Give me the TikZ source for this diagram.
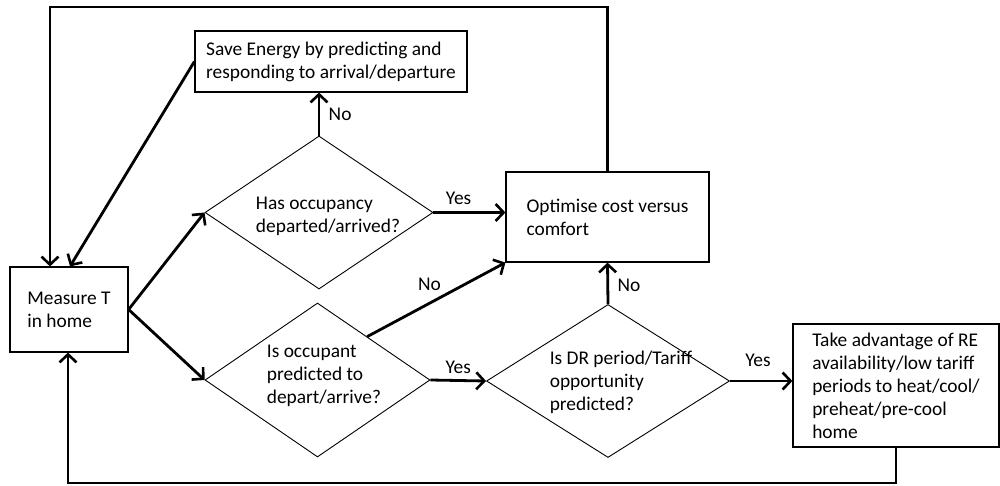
\documentclass[tikz,border=0pt]{standalone}
\usepackage{fontspec}
\setmainfont{Carlito}
\usetikzlibrary{shapes.geometric,arrows.meta,calc}

\tikzset{
	box/.style={draw, line width=1.2pt, align=left, inner sep=0pt},
	decision/.style={draw, diamond, line width=0.9pt, inner sep=0pt},
	txt/.style={align=left, inner sep=0pt},
	flow/.style={line width=2.8pt, -{Straight Barb[length=8pt, width=17pt, line width=2.6pt]}}
}

\begin{document}
\begin{tikzpicture}[x=1pt, y=-1pt, font=\fontsize{19.4}{23}\selectfont]
			\useasboundingbox (0, 0) rectangle (1000, 486);
			% boxes
			\node [box, minimum width=118pt, minimum height=85pt] (meas) at (69, 309.5) {Measure T\\in home};
			\node [box, minimum width=272pt, minimum height=61pt] (save) at (331, 61.5) {Save Energy by predicting and\\responding to arrival/departure};
			\node [box, minimum width=203pt, minimum height=90pt] (opt) at (607.5, 217) {Optimise cost versus\\comfort};
			\node [box, minimum width=206pt, minimum height=123pt] (re) at (896, 385.5) {Take advantage of RE\\availability/low tariff\\periods to heat/cool/\\preheat/pre-cool\\home};
			% decisions
			\node [decision, minimum width=228pt, minimum height=153pt] (occ) at (319, 212.5) {};
			\node [txt] (occtxt) at (328, 216) {Has occupancy\\departed/arrived?};
			\node [decision, minimum width=225pt, minimum height=154pt] (pred) at (317.5, 380) {};
			\node [txt] (predtxt) at (324, 376) {Is occupant\\predicted to\\depart/arrive?};
			\node [decision, minimum width=243pt, minimum height=153pt] (dr) at (608, 381) {};
			\node [txt] (drtxt) at (621, 382) {Is DR period/Tariff\\opportunity\\predicted?};
			% loops
			\coordinate (tl) at (50, 7);
			\coordinate (bl) at (68, 483);
			\draw [flow] (opt.north) |- (tl) -- (tl |- meas.north);
			\draw [flow] (re.south) |- (bl) -- (bl |- meas.south);
			\draw [flow] (save.west) -- ([xshift=1pt]meas.north);
			% branches
			\draw [flow] (meas.east) -- (occ.west);
			\draw [flow] (meas.east) -- (pred.west);
			\draw [flow] (occ.north) -- (occ.north |- save.south) node[pos=.5, right=5pt] {No};
			\draw [flow] (occ.east) -- (occ.east -| opt.west) node[pos=.35, above=3pt] {Yes};
			\draw [flow] ($(pred.north)!0.44!(pred.east)$) -- (opt.south west) node[pos=.45, above=8pt] {No};
			\draw [flow] (pred.east) -- (dr.west) node[pos=.5, above=2pt] {Yes};
			\draw [flow] (dr.north) -- (opt.south) node[pos=.45, right=5pt] {No};
			\draw [flow] (dr.east) -- (dr.east -| re.west) node[pos=.45, above=10pt] {Yes};
		\end{tikzpicture}
\end{document}
